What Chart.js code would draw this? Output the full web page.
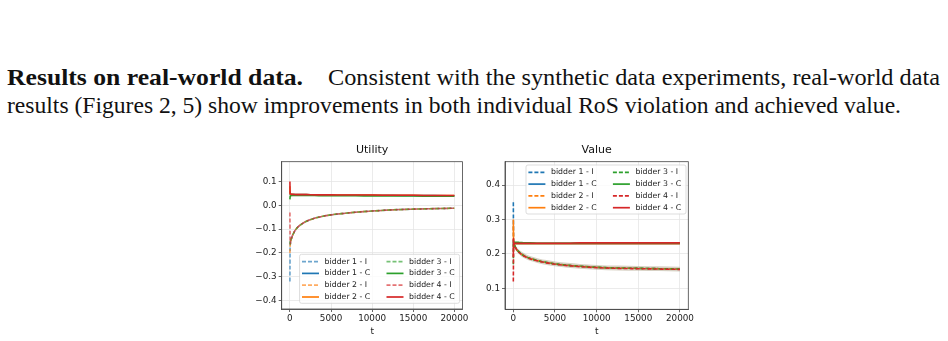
<!DOCTYPE html>
<html lang="en">
<head>
<meta charset="utf-8">
<title>Utility and value</title>
<script src="https://cdn.jsdelivr.net/npm/chart.js"></script>
<style>
  html, body { margin: 0; padding: 0; background: #fff; }
  body { width: 948px; height: 341px; position: relative; overflow: hidden; }
  .ln { position: absolute; white-space: nowrap; font-family: "Liberation Serif", serif; font-size: 24px; line-height: 24px; color: #111; transform-origin: 0 0; }
  .ln.b { font-weight: bold; }
  canvas { position: absolute; }
</style>
</head>
<body>
<span class="ln b" style="left:7px;top:64.6px" data-w="296">Results on real-world data.</span>
<span class="ln" style="left:328px;top:64.6px" data-w="612">Consistent with the synthetic data experiments, real-world data</span>
<span class="ln" style="left:6.5px;top:92.6px" data-w="894">results (Figures 2, 5) show improvements in both individual RoS violation and achieved value.</span>

<canvas id="utilChart" width="230" height="200" style="left:240px;top:140px"></canvas>
<canvas id="valueChart" width="230" height="200" style="left:470px;top:140px"></canvas>

<script>
// time steps shared by every series
const tAll = [0, 10, 20, 30, 50, 100, 200, 300, 500, 700, 1000, 1500, 2000, 3000, 4000, 5000, 6500, 8000, 10000, 12500, 15000, 17500, 20000];
const xTicks = [0, 5000, 10000, 15000, 20000];
const utilTicks = [-0.4, -0.3, -0.2, -0.1, 0.0, 0.1];
const valueTicks = [0.1, 0.2, 0.3, 0.4];
const bidders = ['bidder 1', 'bidder 2', 'bidder 3', 'bidder 4'];
const colors = ['#1f77b4', '#ff7f0e', '#2ca02c', '#d62728'];

// Utility - I (dashed)
const utilI1 = [-0.320, -0.260, -0.200, -0.175, -0.162, -0.150, -0.138, -0.128, -0.113, -0.102, -0.090, -0.077, -0.067, -0.054, -0.046, -0.040, -0.034, -0.029, -0.024, -0.019, -0.016, -0.014, -0.012];
const utilI2 = [-0.200, -0.190, -0.180, -0.170, -0.162, -0.150, -0.138, -0.128, -0.113, -0.102, -0.090, -0.077, -0.067, -0.054, -0.046, -0.040, -0.034, -0.029, -0.024, -0.019, -0.016, -0.014, -0.012];
const utilI3 = [-0.150, -0.155, -0.160, -0.162, -0.161, -0.150, -0.138, -0.128, -0.113, -0.102, -0.090, -0.077, -0.067, -0.054, -0.046, -0.040, -0.034, -0.029, -0.024, -0.019, -0.016, -0.014, -0.012];
const utilI4 = [-0.030, -0.080, -0.120, -0.150, -0.160, -0.151, -0.139, -0.128, -0.113, -0.102, -0.090, -0.077, -0.067, -0.054, -0.046, -0.040, -0.034, -0.029, -0.024, -0.019, -0.016, -0.014, -0.012];
// Utility - C (solid)
const utilC1 = [0.060, 0.052, 0.048, 0.047, 0.046, 0.046, 0.046, 0.045, 0.045, 0.045, 0.045, 0.045, 0.045, 0.044, 0.044, 0.044, 0.043, 0.043, 0.042, 0.042, 0.041, 0.041, 0.040];
const utilC2 = [0.080, 0.060, 0.050, 0.048, 0.047, 0.046, 0.046, 0.046, 0.045, 0.045, 0.045, 0.045, 0.045, 0.044, 0.044, 0.044, 0.043, 0.043, 0.043, 0.042, 0.042, 0.041, 0.041];
const utilC3 = [0.025, 0.030, 0.034, 0.037, 0.039, 0.040, 0.041, 0.041, 0.041, 0.041, 0.041, 0.041, 0.041, 0.041, 0.040, 0.040, 0.040, 0.040, 0.039, 0.039, 0.039, 0.038, 0.038];
const utilC4 = [0.100, 0.070, 0.055, 0.050, 0.048, 0.047, 0.046, 0.046, 0.046, 0.045, 0.045, 0.045, 0.045, 0.044, 0.044, 0.044, 0.043, 0.043, 0.043, 0.042, 0.042, 0.041, 0.041];
const utilBandUp = [0.183, 0.120, 0.080, 0.065, 0.055, 0.051, 0.050, 0.049, 0.049, 0.048, 0.048, 0.047, 0.047, 0.047, 0.046, 0.046, 0.046, 0.045, 0.045, 0.044, 0.044, 0.044, 0.043];
const utilBandLo = [-0.435, -0.010, 0.015, 0.025, 0.030, 0.034, 0.036, 0.037, 0.038, 0.038, 0.038, 0.038, 0.038, 0.038, 0.037, 0.037, 0.037, 0.037, 0.036, 0.036, 0.036, 0.035, 0.035];

// Value - I (dashed)
const valI1 = [0.350, 0.300, 0.260, 0.240, 0.232, 0.228, 0.222, 0.217, 0.210, 0.205, 0.199, 0.192, 0.187, 0.180, 0.175, 0.171, 0.167, 0.164, 0.161, 0.159, 0.158, 0.157, 0.156];
const valI2 = [0.280, 0.260, 0.245, 0.236, 0.232, 0.228, 0.222, 0.217, 0.210, 0.205, 0.199, 0.192, 0.187, 0.180, 0.175, 0.171, 0.167, 0.164, 0.161, 0.159, 0.158, 0.157, 0.156];
const valI3 = [0.170, 0.200, 0.215, 0.228, 0.232, 0.228, 0.222, 0.217, 0.210, 0.205, 0.199, 0.192, 0.187, 0.180, 0.175, 0.171, 0.167, 0.164, 0.161, 0.159, 0.158, 0.157, 0.156];
const valI4 = [0.120, 0.160, 0.200, 0.225, 0.231, 0.227, 0.221, 0.216, 0.209, 0.204, 0.198, 0.191, 0.186, 0.179, 0.174, 0.170, 0.166, 0.163, 0.160, 0.158, 0.157, 0.156, 0.155];
// Value - C (solid)
const valC1 = [0.240, 0.236, 0.233, 0.232, 0.231, 0.230, 0.230, 0.230, 0.230, 0.230, 0.230, 0.230, 0.230, 0.230, 0.230, 0.230, 0.230, 0.230, 0.230, 0.230, 0.230, 0.230, 0.230];
const valC2 = [0.300, 0.270, 0.245, 0.236, 0.232, 0.231, 0.230, 0.230, 0.230, 0.230, 0.230, 0.230, 0.230, 0.230, 0.230, 0.230, 0.230, 0.230, 0.230, 0.230, 0.230, 0.230, 0.230];
const valC3 = [0.220, 0.228, 0.232, 0.233, 0.234, 0.234, 0.234, 0.234, 0.234, 0.233, 0.233, 0.232, 0.232, 0.231, 0.231, 0.231, 0.231, 0.231, 0.231, 0.231, 0.231, 0.231, 0.231];
const valC4 = [0.190, 0.245, 0.225, 0.235, 0.232, 0.231, 0.231, 0.231, 0.231, 0.231, 0.231, 0.231, 0.231, 0.231, 0.231, 0.231, 0.231, 0.232, 0.232, 0.232, 0.232, 0.232, 0.232];
const valBandUp = [0.468, 0.330, 0.270, 0.245, 0.237, 0.233, 0.228, 0.224, 0.217, 0.212, 0.206, 0.199, 0.194, 0.187, 0.182, 0.178, 0.174, 0.171, 0.168, 0.166, 0.165, 0.164, 0.163];
const valBandLo = [0.040, 0.130, 0.180, 0.210, 0.225, 0.221, 0.215, 0.210, 0.203, 0.198, 0.192, 0.185, 0.180, 0.173, 0.168, 0.164, 0.160, 0.157, 0.154, 0.152, 0.151, 0.150, 0.149];

// fit the paragraph lines to the measured widths
document.querySelectorAll('.ln').forEach(function (el) {
    var w = el.getBoundingClientRect().width;
    el.style.transform = 'scaleX(' + (parseFloat(el.dataset.w) / w) + ')';
});

Chart.defaults.font.family = "'DejaVu Sans', sans-serif";
Chart.defaults.color = '#222';

function pts(arr) {
    return tAll.map(function (t, i) { return {x: t, y: arr[i]}; });
}

function withAlpha(hex, a) {
    var n = parseInt(hex.slice(1), 16);
    return 'rgba(' + (n >> 16) + ',' + ((n >> 8) & 255) + ',' + (n & 255) + ',' + a + ')';
}

function series(iArrs, cArrs, iAlpha) {
    var out = [];
    bidders.forEach(function (b, k) {
        out.push({label: b + ' - I', data: pts(iArrs[k]), borderColor: withAlpha(colors[k], iAlpha), borderDash: [4, 2], order: -(2 * k)});
        out.push({label: b + ' - C', data: pts(cArrs[k]), borderColor: colors[k], order: -(2 * k + 1)});
    });
    return out;
}

function band(up, lo, color) {
    return [
        {data: pts(up), borderColor: 'rgba(0,0,0,0)', backgroundColor: color, fill: '+1', order: 100},
        {data: pts(lo), borderColor: 'rgba(0,0,0,0)', fill: false, order: 100}
    ];
}

function fmt(v) {
    return v.toFixed(1).replace('-', '\u2212');
}

function xScale(h) {
    return {
        type: 'linear', min: -1000, max: 21000,
        afterBuildTicks: function (s) { s.ticks = xTicks.map(function (v) { return {value: v}; }); },
        afterFit: function (s) { s.height = h; },
        ticks: {font: {size: 8.8}, padding: 1.3, maxRotation: 0, autoSkip: false, callback: function (v) { return String(v); }},
        grid: {color: '#e6e6e6', lineWidth: 0.8, tickLength: 3, tickColor: '#444', tickWidth: 0.8},
        border: {color: '#444', width: 0.8},
        title: {display: true, text: 't', font: {size: 9}, padding: {top: 0, bottom: 3}}
    };
}

function yScale(min, max, ticks, w) {
    return {
        type: 'linear', min: min, max: max,
        afterBuildTicks: function (s) { s.ticks = ticks.map(function (v) { return {value: v}; }); },
        afterFit: function (s) { s.width = w; },
        ticks: {font: {size: 8.8}, padding: 2, autoSkip: false, callback: function (v) { return fmt(v); }},
        grid: {color: '#e6e6e6', lineWidth: 0.8, tickLength: 3, tickColor: '#444', tickWidth: 0.8},
        border: {color: '#444', width: 0.8}
    };
}

// frame on all four sides plus a two-column legend inside the axes
var boxLegend = {
    id: 'boxLegend',
    afterDraw: function (chart, args, opts) {
        var ctx = chart.ctx, a = chart.chartArea;
        ctx.save();
        ctx.strokeStyle = '#444';
        ctx.lineWidth = 0.8;
        ctx.strokeRect(a.left, a.top, a.right - a.left, a.bottom - a.top);

        var w = 160, h = 49;
        var bx = a.right - opts.right - w;
        var by = opts.top !== undefined ? a.top + opts.top : a.bottom - opts.bottom - h;
        ctx.beginPath();
        ctx.roundRect(bx, by, w, h, 2);
        ctx.fillStyle = 'rgba(255,255,255,0.8)';
        ctx.fill();
        ctx.strokeStyle = '#d4d4d4';
        ctx.stroke();

        var items = chart.data.datasets.filter(function (d) { return d.label; });
        ctx.font = "7.8px 'DejaVu Sans'";
        ctx.textBaseline = 'middle';
        ctx.textAlign = 'left';
        items.forEach(function (d, i) {
            var cx = bx + Math.floor(i / 4) * 84.5;
            var cy = by + 7.3 + (i % 4) * 11.8;
            ctx.beginPath();
            ctx.setLineDash(d.borderDash || []);
            ctx.strokeStyle = d.borderColor;
            ctx.lineWidth = 1.7;
            ctx.moveTo(cx + 2.4, cy);
            ctx.lineTo(cx + 19.4, cy);
            ctx.stroke();
            ctx.setLineDash([]);
            ctx.fillStyle = '#222';
            ctx.fillText(d.label, cx + 25, cy);
        });
        ctx.restore();
    }
};

function makeChart(id, title, datasets, yOpts, padRight, xH, legendPos) {
    return new Chart(document.getElementById(id), {
        type: 'line',
        data: {datasets: datasets},
        options: {
            responsive: false,
            animation: false,
            devicePixelRatio: 1,
            layout: {padding: {left: 0, right: padRight, top: 0, bottom: 0}},
            elements: {
                line: {borderWidth: 1.6, cubicInterpolationMode: 'monotone'},
                point: {radius: 0}
            },
            plugins: {
                legend: {display: false},
                tooltip: {enabled: false},
                title: {display: true, text: title, fullSize: false, color: '#111',
                        font: {size: 11, weight: 'normal'}, padding: {top: 3.5, bottom: 5}},
                boxLegend: legendPos
            },
            scales: {x: xScale(xH), y: yOpts}
        },
        plugins: [boxLegend]
    });
}

makeChart('utilChart', 'Utility',
    series([utilI1, utilI2, utilI3, utilI4], [utilC1, utilC2, utilC3, utilC4], 0.65)
        .concat(band(utilBandUp, utilBandLo, 'rgba(214,110,90,0.18)')),
    yScale(-0.435, 0.183, utilTicks, 41.7), 7, 31, {right: 3, bottom: 5.7});

makeChart('valueChart', 'Value',
    series([valI1, valI2, valI3, valI4], [valC1, valC2, valC3, valC4], 1)
        .concat(band(valBandUp, valBandLo, 'rgba(160,145,115,0.42)')),
    yScale(0.039, 0.468, valueTicks, 35), 11.7, 30.7, {right: 2.3, top: 3.3});
</script>
</body>
</html>
